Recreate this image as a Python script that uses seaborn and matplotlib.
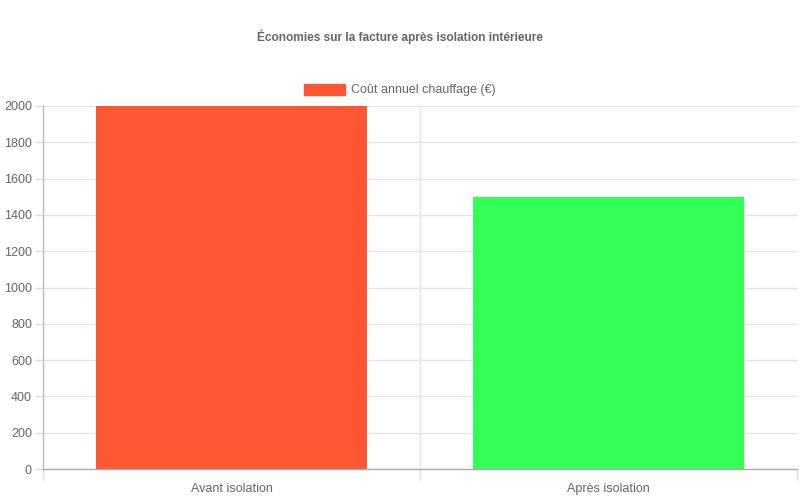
import matplotlib
matplotlib.use("Agg")
import matplotlib.pyplot as plt
import seaborn as sns
import pandas as pd
from matplotlib.patches import Patch

categories = ["Avant isolation", "Après isolation"]
values = [2000, 1500]
colors = ["#FF5733", "#33FF57"]
series_label = "Coût annuel chauffage (€)"
title = "Économies sur la facture après isolation intérieure"
y_ticks = list(range(0, 2001, 200))

sns.set_theme(style="white")
plt.rcParams["font.family"] = ["Liberation Sans", "DejaVu Sans"]

df = pd.DataFrame({"cat": categories, "val": values})

fig = plt.figure(figsize=(8, 5), dpi=100)
ax = fig.add_axes([43/800, 31/500, 754/800, 363/500])

sns.barplot(data=df, x="cat", y="val", hue="cat", palette=colors, width=0.72,
            legend=False, ax=ax, saturation=1, linewidth=0)

ax.set_ylim(0, 2000)
ax.set_xlim(-0.5, 1.5)
ax.set_yticks(y_ticks)
ax.set_yticklabels([str(t) for t in y_ticks])
ax.set_xlabel("")
ax.set_ylabel("")

grid_c = "#e5e5e5"
ax.grid(False)
for t in y_ticks[1:]:
    ax.axhline(t, color=grid_c, lw=1, zorder=0)
for xb in [0.5]:
    ax.axvline(xb, color=grid_c, lw=1, zorder=0)
ax.set_axisbelow(True)

for side in ["top", "right"]:
    ax.spines[side].set_visible(False)
ax.spines["left"].set_color("#bbbbbb")
ax.spines["bottom"].set_color("#aaaaaa")
ax.spines["left"].set_linewidth(1)
ax.spines["bottom"].set_linewidth(1)

ax.tick_params(axis="y", which="both", left=True, length=6, width=1, color="#dddddd",
               labelsize=9, labelcolor="#666666", pad=2)
ax.tick_params(axis="x", which="both", bottom=False, labelsize=9, labelcolor="#666666", pad=4)

# category boundary ticks below axis
ax.set_xticks([0, 1], minor=False)
ax.set_xticks([-0.5, 0.5, 1.5], minor=True)
ax.tick_params(axis="x", which="minor", bottom=True, length=8, width=1, color="#dddddd")

fig.text(0.5, 1 - 37/500, title, ha="center", va="center", fontsize=8.6,
         fontweight="bold", color="#666666")

handles = [Patch(facecolor=colors[0], edgecolor=colors[0])]
fig.legend(handles, [series_label], loc="center", bbox_to_anchor=(0.5, 1 - 90/500),
           frameon=False, fontsize=9, labelcolor="#666666", handlelength=3.3,
           handleheight=1.0, handletextpad=0.5)

fig.savefig("out.png", dpi=100)
